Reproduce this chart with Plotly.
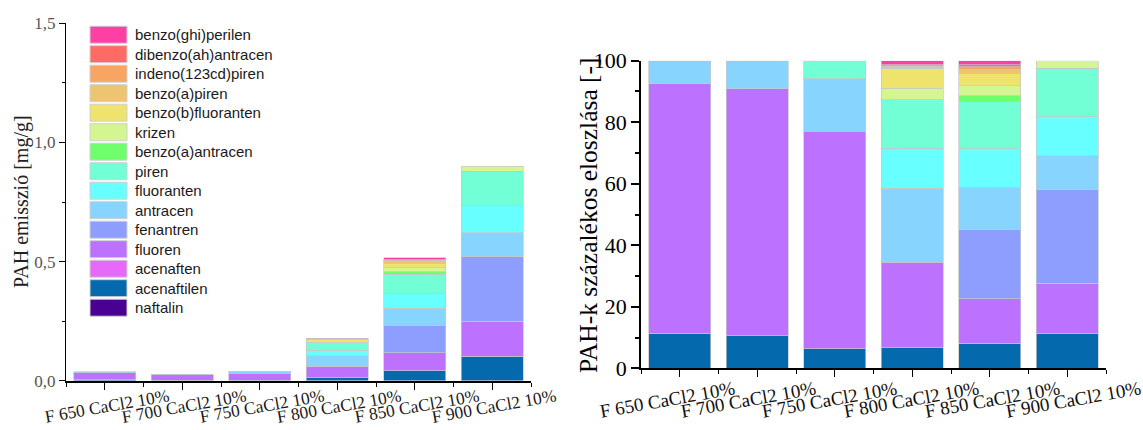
import numpy as np
import plotly.graph_objects as go

# Samples (pyrolysis temperature, 10% CaCl2)
samples = ["F 650 CaCl2 10%", "F 700 CaCl2 10%", "F 750 CaCl2 10%",
           "F 800 CaCl2 10%", "F 850 CaCl2 10%", "F 900 CaCl2 10%"]

# PAH compounds, bottom of the stack first
compounds = ["naftalin", "acenaftilen", "acenaften", "fluoren", "fenantren",
             "antracen", "fluoranten", "piren", "benzo(a)antracen", "krizen",
             "benzo(b)fluoranten", "benzo(a)piren", "indeno(123cd)piren",
             "dibenzo(ah)antracen", "benzo(ghi)perilen"]
colors = ["#4A0092", "#046AAD", "#E769FA", "#BC72FF", "#8E9EFF",
          "#86D4FF", "#67FFFF", "#72FFD5", "#6FFF6C", "#D4F590",
          "#EEE36C", "#EDC46F", "#F6A562", "#FE6B64", "#FF3FA4"]

# PAH emission per compound [mg/g], one value per sample
naftalin = [0.0, 0.0, 0.0, 0.0, 0.0, 0.0]
acenaftilen = [0.00422, 0.00286, 0.00252, 0.01193, 0.04172, 0.1026]
acenaften = [0.0, 0.0, 0.0, 0.0, 0.0, 0.0]
fluoren = [0.03001, 0.02168, 0.02832, 0.04948, 0.07468, 0.1467]
fenantren = [0.0, 0.0, 0.0, 0.0, 0.11536, 0.2727]
antracen = [0.00278, 0.00246, 0.0068, 0.04272, 0.07159, 0.0999]
fluoranten = [0.0, 0.0, 0.0, 0.02332, 0.06386, 0.1134]
piren = [0.0, 0.0, 0.00236, 0.02795, 0.07931, 0.1431]
benzo_a_antracen = [0.0, 0.0, 0.0, 0.0, 0.00979, 0.0]
krizen = [0.0, 0.0, 0.0, 0.00676, 0.017, 0.0216]
benzo_b_fluoranten = [0.0, 0.0, 0.0, 0.01139, 0.0206, 0.0]
benzo_a_piren = [0.0, 0.0, 0.0, 0.00125, 0.00721, 0.0]
indeno_piren = [0.0, 0.0, 0.0, 0.00089, 0.00412, 0.0]
dibenzo_antracen = [0.0, 0.0, 0.0, 0.0, 0.00309, 0.0]
benzo_ghi_perilen = [0.0, 0.0, 0.0, 0.00231, 0.0067, 0.0]

series = [naftalin, acenaftilen, acenaften, fluoren, fenantren, antracen,
          fluoranten, piren, benzo_a_antracen, krizen, benzo_b_fluoranten,
          benzo_a_piren, indeno_piren, dibenzo_antracen, benzo_ghi_perilen]

W, H = 1143, 430


def px(xp):
    return xp / W


def py(yp):
    return 1 - yp / H


emission = np.array(series)
share = emission / emission.sum(axis=0) * 100  # percentage distribution
xpos = np.arange(len(samples))

fig = go.Figure()
edge = dict(color="#c8c8c8", width=0.7)
for name, color, vals, pct in zip(compounds, colors, emission, share):
    present = vals > 0  # skip empty segments so they draw no outline
    fig.add_trace(go.Bar(x=xpos[present], y=vals[present], name=name, width=0.8,
                         marker=dict(color=color, line=edge),
                         xaxis="x", yaxis="y", showlegend=False))
    fig.add_trace(go.Bar(x=xpos[present], y=pct[present], name=name, width=0.8,
                         marker=dict(color=color, line=edge),
                         xaxis="x2", yaxis="y2", showlegend=False))

serif = "Liberation Serif, Times New Roman, serif"
sans = "Liberation Sans, Arial, sans-serif"
bounds = [i - 0.5 for i in range(len(samples) + 1)]


def x_axis(domain, anchor):
    return dict(domain=domain, anchor=anchor, range=[-0.5, len(samples) - 0.5],
                automargin=False,
                showline=True, linecolor="black", linewidth=1.6,
                ticks="outside", tickmode="array", tickvals=list(xpos),
                ticklen=7, tickwidth=1.4, tickcolor="black",
                showticklabels=False, showgrid=False, zeroline=False,
                minor=dict(tickmode="array", tickvals=bounds, ticks="outside",
                           ticklen=4, tickwidth=1.4, tickcolor="black"))


fig.update_layout(
    width=W, height=H, margin=dict(l=0, r=0, t=0, b=0, autoexpand=False),
    paper_bgcolor="white", plot_bgcolor="white",
    barmode="stack", separators=", ", showlegend=False,
    xaxis=x_axis([px(66), px(531)], "y"),
    xaxis2=x_axis([px(641), px(1106)], "y2"),
    yaxis=dict(domain=[py(380.7), py(23.3)], anchor="x", range=[0, 1.5],
               automargin=False,
               tickmode="array", tickvals=[0, 0.5, 1.0, 1.5], tickformat=".1f",
               showline=True, linecolor="black", linewidth=1.4,
               ticks="outside", ticklen=6, tickwidth=1.3, tickcolor="black",
               tickfont=dict(family=serif, size=17, color="#555"),
               minor=dict(tickmode="linear", tick0=0, dtick=0.25, ticks="outside",
                          ticklen=3, tickwidth=1.3, tickcolor="black"),
               showgrid=False, zeroline=False),
    yaxis2=dict(domain=[py(368.3), py(60.7)], anchor="x2", range=[0, 100],
                automargin=False,
                tickmode="linear", tick0=0, dtick=20,
                showline=True, linecolor="black", linewidth=1.8,
                ticks="outside", ticklen=8, tickwidth=1.6, tickcolor="black",
                tickfont=dict(family=serif, size=22, color="black"),
                minor=dict(tickmode="linear", tick0=0, dtick=10, ticks="outside",
                           ticklen=4, tickwidth=1.6, tickcolor="black"),
                showgrid=False, zeroline=False),
)

annotations = []
# Rotated category labels under both charts; the right-hand labels fan out
# a little wider than the tick spacing
for i, s in enumerate(samples):
    annotations.append(dict(text=s, x=i, xref="x", y=py(406), yref="paper",
                            xanchor="center", yanchor="middle", xshift=2,
                            textangle=-10, showarrow=False, borderpad=0,
                            font=dict(family=serif, size=17.5, color="#1a1a1a")))
    annotations.append(dict(text=s, x=i, xref="x2", y=py(399), yref="paper",
                            xanchor="center", yanchor="middle",
                            xshift=-12 + 3.6 * i, borderpad=0,
                            textangle=-10, showarrow=False,
                            font=dict(family=serif, size=19, color="#111")))

# Axis titles
annotations.append(dict(text="PAH emisszió [mg/g]", x=px(21), y=py(202),
                        xref="paper", yref="paper", textangle=-90, showarrow=False,
                        xanchor="center", yanchor="middle",
                        font=dict(family=serif, size=20, color="#222")))
annotations.append(dict(text="PAH-k százalékos eloszlása [-]", x=px(588), y=py(215),
                        xref="paper", yref="paper", textangle=-90, showarrow=False,
                        xanchor="center", yanchor="middle",
                        font=dict(family=serif, size=25.5, color="black")))

# Legend inside the left chart: top entry is the last compound of the stack
shapes = []
for k, (name, color) in enumerate(zip(compounds[::-1], colors[::-1])):
    cy = 34.7 + 19.5 * k
    shapes.append(dict(type="rect", xref="paper", yref="paper",
                       x0=px(90), x1=px(127), y0=py(cy + 8.5), y1=py(cy - 8.5),
                       fillcolor=color, line=dict(color="#d0d0d0", width=1)))
    annotations.append(dict(text=name, x=px(133), y=py(cy), xref="paper", yref="paper",
                            xanchor="left", yanchor="middle", showarrow=False,
                            font=dict(family=sans, size=15, color="#1a1a1a")))

fig.update_layout(annotations=annotations, shapes=shapes)
fig.write_html("out.html")
